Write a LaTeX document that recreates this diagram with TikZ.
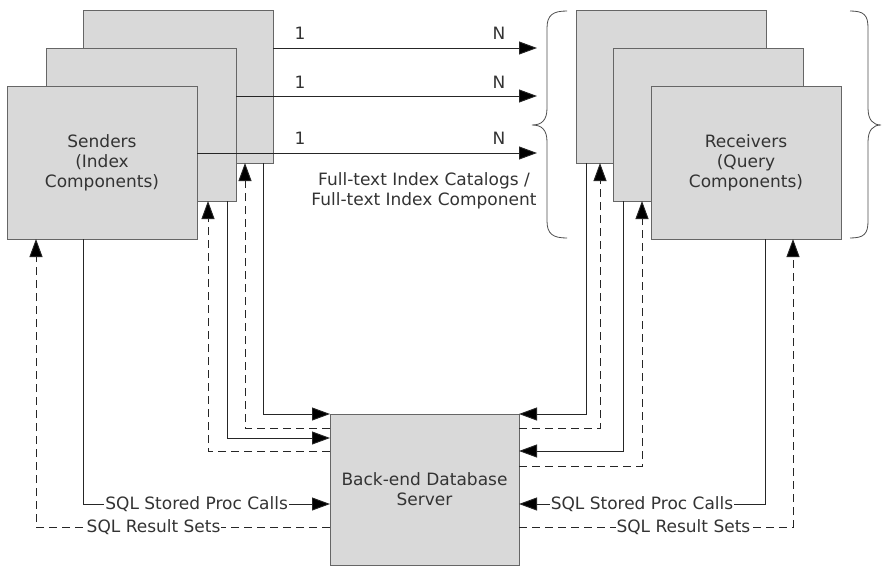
\documentclass[tikz,border=0pt]{standalone}
\usepackage{fontspec}
\setmainfont{DejaVu Sans}
\usetikzlibrary{arrows.meta}

\begin{document}
\begin{tikzpicture}[x=1pt, y=-1pt,
        comp/.style={draw=black!60, fill=black!15, line width=1pt, minimum width=190pt, minimum height=152pt,
            inner sep=0pt, outer sep=0pt, anchor=north west, align=center},
        call/.style={draw=black!85, line width=0.9pt, -{Triangle[length=18pt,width=13pt,fill=black]}},
        result/.style={call, dash pattern=on 8pt off 5pt},
        lbl/.style={fill=white, inner sep=1pt},
        font=\fontsize{17}{20}\selectfont, text=black!80]
        \useasboundingbox (0,0) rectangle (882,567);
        % senders
        \node[comp] (s3) at (83,11) {};
        \node[comp] (s2) at (46,49) {};
        \node[comp] (s1) at (7,87) {Senders\\(Index\\Components)};
        % receivers
        \node[comp] (r3) at (576,11) {};
        \node[comp] (r2) at (613,49) {};
        \node[comp] (r1) at (651,87) {Receivers\\(Query\\Components)};
        \node[comp, minimum width=189pt, minimum height=151pt] (db) at (330,414) {Back-end Database\\Server};

        \coordinate (n1) at (537,48);
        \coordinate (n2) at (537,96);
        \coordinate (n3) at (537,153);
        \draw[call] (s3.east |- n1) -- (n1);
        \draw[call] (s2.east |- n2) -- (n2);
        \draw[call] (s1.east |- n3) -- (n3);
        \node (one1) at (300,33) {1};
        \node (one2) at (300,82) {1};
        \node (one3) at (300,138) {1};
        \node (many1) at (499,33) {N};
        \node (many2) at (499,82) {N};
        \node (many3) at (499,138) {N};
        \node[align=center] (catalog) at (424,191) {Full-text Index Catalogs /\\Full-text Index Component};

        \draw[black!70, line width=0.8pt] (567,11) .. controls (553,11) and (547,15) .. (547,28) -- (547,108)
            .. controls (547,120) and (542,125) .. (532,125) .. controls (542,125) and (547,130) .. (547,142)
            -- (547,221) .. controls (547,234) and (553,238) .. (567,238);
        \draw[black!70, line width=0.8pt] (850,11) .. controls (864,11) and (868,15) .. (868,28) -- (868,108)
            .. controls (868,120) and (873,125) .. (881,125) .. controls (873,125) and (868,130) .. (868,142)
            -- (868,221) .. controls (868,234) and (864,238) .. (850,238);

        % sender side
        \draw[call] ([xshift=-10pt]s3.south east) |- (db.north west);
        \draw[result] ([yshift=-14pt]db.north west) -| ([xshift=-28pt]s3.south east);
        \draw[call] ([xshift=-9pt]s2.south east) |- ([yshift=-24pt]db.north west);
        \draw[result] ([yshift=-37pt]db.north west) -| ([xshift=-28pt]s2.south east);
        \draw[call] ([xshift=76pt]s1.south west) |- node[lbl, pos=0.73] (proc1) {SQL Stored Proc Calls}
            ([yshift=-90pt]db.north west);
        \draw[result] ([yshift=-113pt]db.north west) -| node[lbl, pos=0.3] (sets1) {SQL Result Sets}
            ([xshift=29pt]s1.south west);

        % receiver side
        \draw[call] ([xshift=10pt]r3.south west) |- (db.north east);
        \draw[result] ([yshift=-14pt]db.north east) -| ([xshift=24pt]r3.south west);
        \draw[call] ([xshift=10pt]r2.south west) |- ([yshift=-37pt]db.north east);
        \draw[result] ([yshift=-52pt]db.north east) -| ([xshift=29pt]r2.south west);
        \draw[call] ([xshift=-76pt]r1.south east) |- node[lbl, pos=0.75] (proc2) {SQL Stored Proc Calls}
            ([yshift=-90pt]db.north east);
        \draw[result] ([yshift=-113pt]db.north east) -| node[lbl, pos=0.3] (sets2) {SQL Result Sets}
            ([xshift=-48pt]r1.south east);
        \end{tikzpicture}
\end{document}
